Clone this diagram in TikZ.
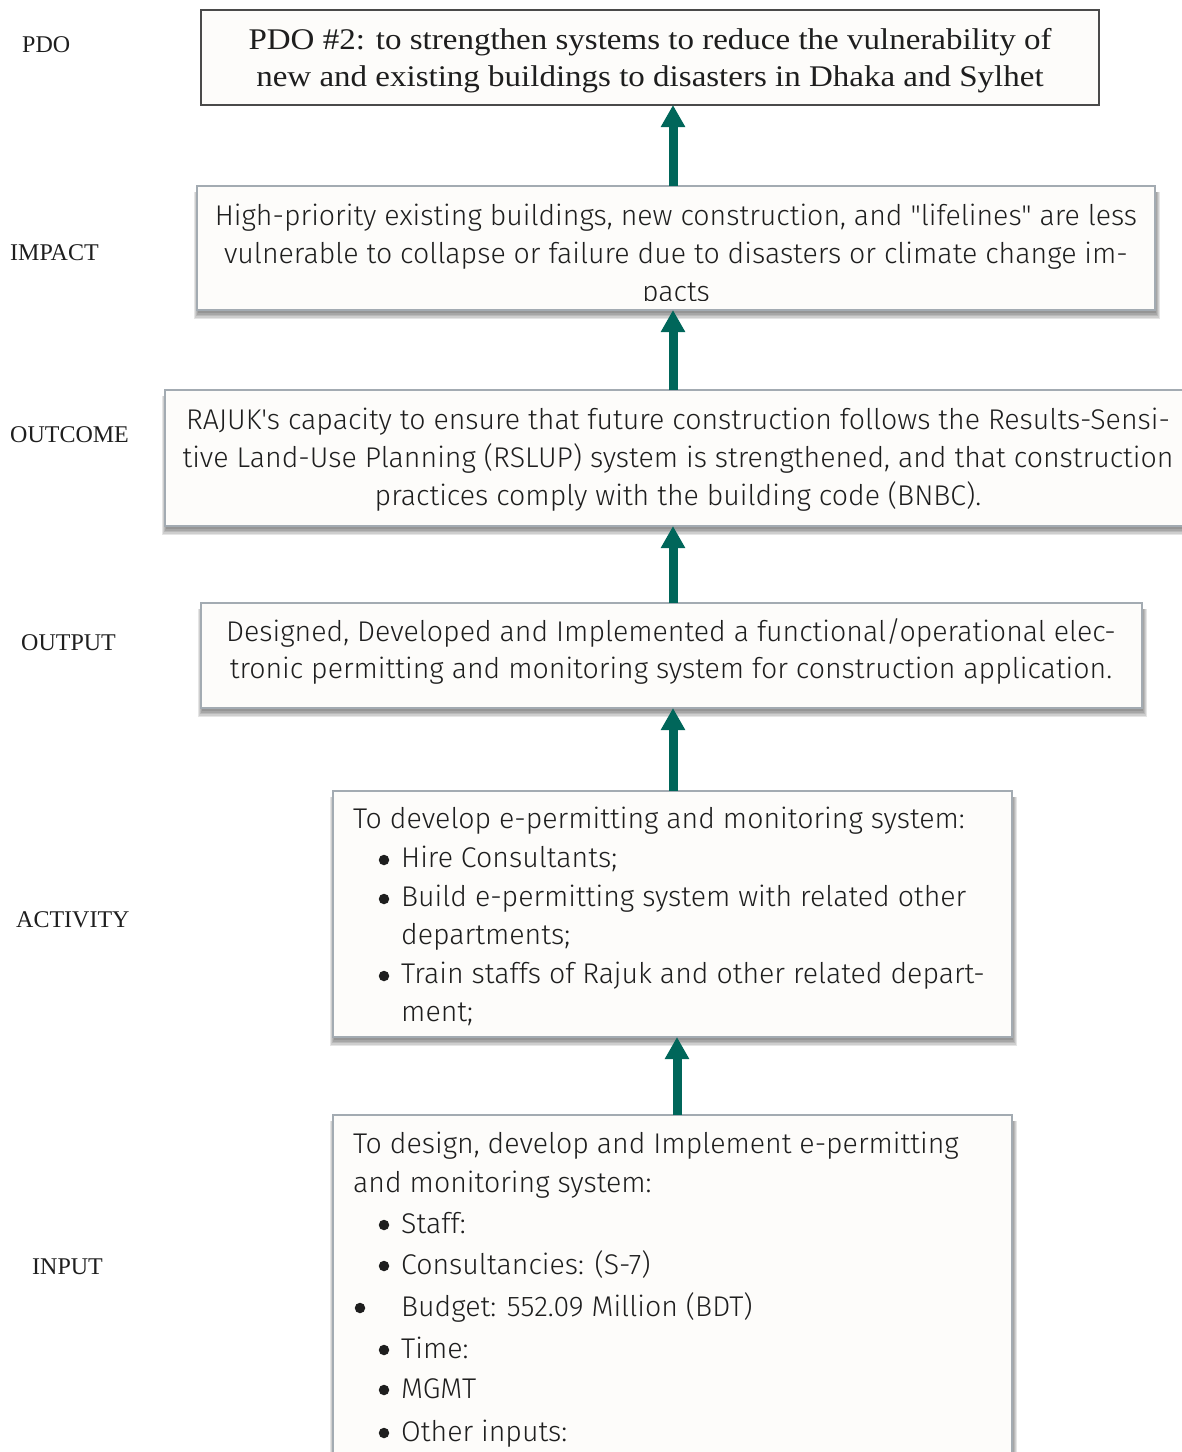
\documentclass[tikz,border=0pt]{standalone}
\usepackage{fontspec}
\usetikzlibrary{arrows.meta}
\IfFontExistsTF{Fira Sans Light}
  {\newfontfamily\bodyfont{Fira Sans Light}}
  {\newfontfamily\bodyfont{Fira Sans}}
\newfontfamily\labelfont{Liberation Serif}
\newfontfamily\widelabelfont[FakeStretch=1.1]{Liberation Serif}

\definecolor{arrowc}{HTML}{00665A}
\definecolor{boxfill}{HTML}{FDFCFA}
\definecolor{boxline}{HTML}{A3ABB2}
\definecolor{pdoline}{HTML}{4A4A4A}
\definecolor{ink}{HTML}{1E1E1E}

\pgfdeclarelayer{shade}
\pgfsetlayers{shade,main}

\tikzset{
  x=1pt, y=-1pt,
  box/.style={draw=boxline, line width=1.5pt, fill=boxfill, inner sep=0pt,
    outer sep=0pt, anchor=north west},
  pdobox/.style={draw=pdoline, line width=1.3pt, fill=boxfill, inner sep=0pt,
    outer sep=0pt, anchor=north west},
  shadelayer/.style={fill=black, opacity=.1},
  body/.style={font=\bodyfont\fontsize{28.5}{38}\selectfont, inner sep=0pt, text=ink},
  bodyc/.style={body, anchor=base},
  bodyl/.style={body, anchor=base west},
  serif/.style={font=\widelabelfont\fontsize{30}{38}\selectfont, inner sep=0pt, text=ink, anchor=base},
  level/.style={font=\labelfont\fontsize{24}{30}\selectfont, inner sep=0pt, text=ink, anchor=base west},
  dot/.style={circle, fill=ink, inner sep=0pt, minimum size=10.5pt},
  up/.style={draw=arrowc, line width=9pt, -{Triangle[width=23pt,length=22pt]}},
}

\begin{document}
\begin{tikzpicture}
\useasboundingbox (0,0) rectangle (1182,1452);
\clip (0,0) rectangle (1182,1452);

% level names
\node[level] (lpdo) at (22,52) {PDO};
\node[level] (limp) at (10,260) {IMPACT};
\node[level] (lout) at (10,442) {OUTCOME};
\node[level] (lop)  at (21,650) {OUTPUT};
\node[level] (lact) at (16,927) {ACTIVITY};
\node[level] (linp) at (32,1274) {INPUT};

% boxes
\node[pdobox, minimum width=898pt, minimum height=95pt] (pdo) at (201,10) {};
\node[box, minimum width=958pt, minimum height=124pt] (impact) at (197,186) {};
\node[box, minimum width=1026pt, minimum height=136pt] (outcome) at (165,390) {};
\node[box, minimum width=941pt, minimum height=105pt] (output) at (201,603) {};
\node[box, minimum width=679pt, minimum height=246pt] (activity) at (333,791) {};
\node[box, minimum width=679pt, minimum height=360pt] (input) at (333,1115) {};

% soft shadows under the framed boxes
\begin{pgfonlayer}{shade}
\foreach \b in {impact,outcome,output,activity,input}{
  \foreach \r in {0,1.5,3,4.5,6}{
    \fill[shadelayer] ([xshift=1pt-0.6*\r pt, yshift=-6pt]\b.north west)
      rectangle ([xshift=1pt+0.6*\r pt, yshift=-3pt-\r pt]\b.south east);
  }
}
\end{pgfonlayer}

% PDO text
\node[serif] (p1) at (650,49) {PDO \#2: to strengthen systems to reduce the vulnerability of};
\node[serif] (p2) at (650,86) {new and existing buildings to disasters in Dhaka and Sylhet};

% impact text, cut off by the box
\begin{scope}
\clip (impact.north west) rectangle ([yshift=10pt]impact.south east);
\node[bodyc] (i1) at (676,225) {High-priority existing buildings, new construction, and "lifelines" are less};
\node[bodyc] (i2) at (676,263) {vulnerable to collapse or failure due to disasters or climate change im-};
\node[bodyc] (i3) at (676,301) {pacts};
\end{scope}

% outcome text
\node[bodyc] (o1) at (678,429) {RAJUK's capacity to ensure that future construction follows the Results-Sensi-};
\node[bodyc] (o2) at (678,467) {tive Land-Use Planning (RSLUP) system is strengthened, and that construction};
\node[bodyc] (o3) at (678,505) {practices comply with the building code (BNBC).};

% output text
\node[bodyc] (u1) at (671,641) {Designed, Developed and Implemented a functional/operational elec-};
\node[bodyc] (u2) at (671,678) {tronic permitting and monitoring system for construction application.};

% activity text
\node[bodyl] (a0) at (353,828) {To develop e-permitting and monitoring system:};
\node[dot] (da1) at (384,860) {};
\node[bodyl] (a1) at (401,867) {Hire Consultants;};
\node[dot] (da2) at (384,899) {};
\node[bodyl] (a2) at (401,906) {Build e-permitting system with related other};
\node[bodyl] (a3) at (401,944) {departments;};
\node[dot] (da4) at (384,976) {};
\node[bodyl] (a4) at (401,983) {Train staffs of Rajuk and other related depart-};
\node[bodyl] (a5) at (401,1021) {ment;};

% input text
\node[bodyl] (n0) at (353,1153) {To design, develop and Implement e-permitting};
\node[bodyl] (n1) at (353,1192) {and monitoring system:};
\node[dot] (dn2) at (384,1225) {};
\node[bodyl] (n2) at (401,1233) {Staff:};
\node[dot] (dn3) at (384,1266) {};
\node[bodyl] (n3) at (401,1274) {Consultancies: (S-7)};
\node[dot] (dn4) at (360,1308) {};
\node[bodyl] (n4) at (401,1316) {Budget: 552.09 Million (BDT)};
\node[dot] (dn5) at (384,1350) {};
\node[bodyl] (n5) at (401,1358) {Time:};
\node[dot] (dn6) at (384,1390) {};
\node[bodyl] (n6) at (401,1398) {MGMT};
\node[dot] (dn7) at (384,1433) {};
\node[bodyl] (n7) at (401,1441) {Other inputs:};

% arrows between levels
\coordinate (ax) at (673,0);
\coordinate (bx) at (677,0);
\draw[up] (impact.north -| ax) -- (pdo.south -| ax);
\draw[up] (outcome.north -| ax) -- (impact.south -| ax);
\draw[up] (output.north -| ax) -- (outcome.south -| ax);
\draw[up] (activity.north -| ax) -- (output.south -| ax);
\draw[up] (input.north -| bx) -- (activity.south -| bx);
\end{tikzpicture}
\end{document}
